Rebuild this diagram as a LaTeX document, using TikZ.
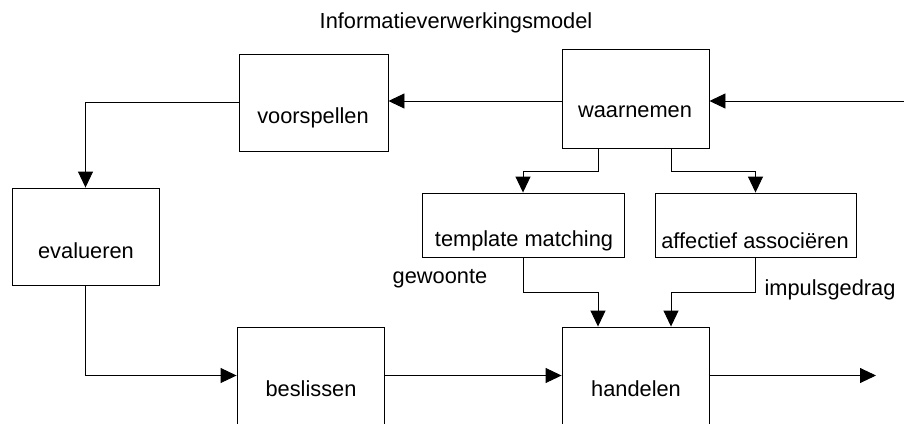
\documentclass[tikz,border=0pt]{standalone}
\usepackage{fontspec}
\setmainfont{Liberation Sans}
\usetikzlibrary{arrows.meta}
\begin{document}
\begin{tikzpicture}[x=1pt,y=-1pt,
  box/.style={draw, line width=0.9pt, inner sep=0pt, minimum width=#1},
  lbl/.style={font=\fontsize{21.8}{25}\selectfont, inner sep=0pt, anchor=center},
  arr/.style={line width=0.9pt, -{Triangle[length=16pt,width=15pt]}},
  con/.style={line width=0.9pt}]
\useasboundingbox (0,0) rectangle (904,423);
\clip (0,0) rectangle (904,423);
% boxes
\node[box=149pt, minimum height=97pt] (voorspellen) at (313.5,102.5) {};
\node[box=147pt, minimum height=99pt] (waarnemen) at (635.5,98.5) {};
\node[box=147pt, minimum height=97pt] (evalueren) at (85.5,236.5) {};
\node[box=202pt, minimum height=64pt] (template) at (523,225) {};
\node[box=201pt, minimum height=64pt] (affectief) at (755.5,225) {};
\node[box=147pt, minimum height=97pt] (beslissen) at (310.5,375.5) {};
\node[box=147pt, minimum height=97pt] (handelen) at (635.5,375.5) {};
% texts
\node[lbl] (title) at (456,23) {Informatieverwerkingsmodel};
\node[lbl] (tvoor) at (313,118) {voorspellen};
\node[lbl] (twaar) at (635,112) {waarnemen};
\node[lbl] (teval) at (86,251) {evalueren};
\node[lbl] (ttemp) at (524,241) {template matching};
\node[lbl] (taff) at (755,241) {affectief associëren};
\node[lbl] (tbes) at (311,389) {beslissen};
\node[lbl] (than) at (636,389) {handelen};
\node[lbl] (gewoonte) at (440,279) {gewoonte};
\node[lbl] (impuls) at (830,290) {impulsgedrag};
% free ends
\coordinate (in) at (904,101);
\coordinate (out) at (876,375.5);
% connectors
\draw[arr] (in) -- (waarnemen.east |- in);
\draw[arr] (waarnemen.west |- in) -- (voorspellen.east |- in);
\draw[arr] (voorspellen.west) -| (evalueren.north);
\draw[arr] (evalueren.south) |- (beslissen.west);
\draw[arr] (beslissen.east) -- (handelen.west);
\draw[arr] (handelen.east) -- (out);
\draw[arr] ([xshift=-37.5pt]waarnemen.south) -- ++(0,23) -| (template.north);
\draw[arr] ([xshift=35.5pt]waarnemen.south) -- ++(0,23) -| (affectief.north);
\draw[arr] (template.south) -- ++(0,35) -| ([xshift=-37.5pt]handelen.north);
\draw[arr] (affectief.south) -- ++(0,35) -| ([xshift=35.5pt]handelen.north);
\end{tikzpicture}
\end{document}
